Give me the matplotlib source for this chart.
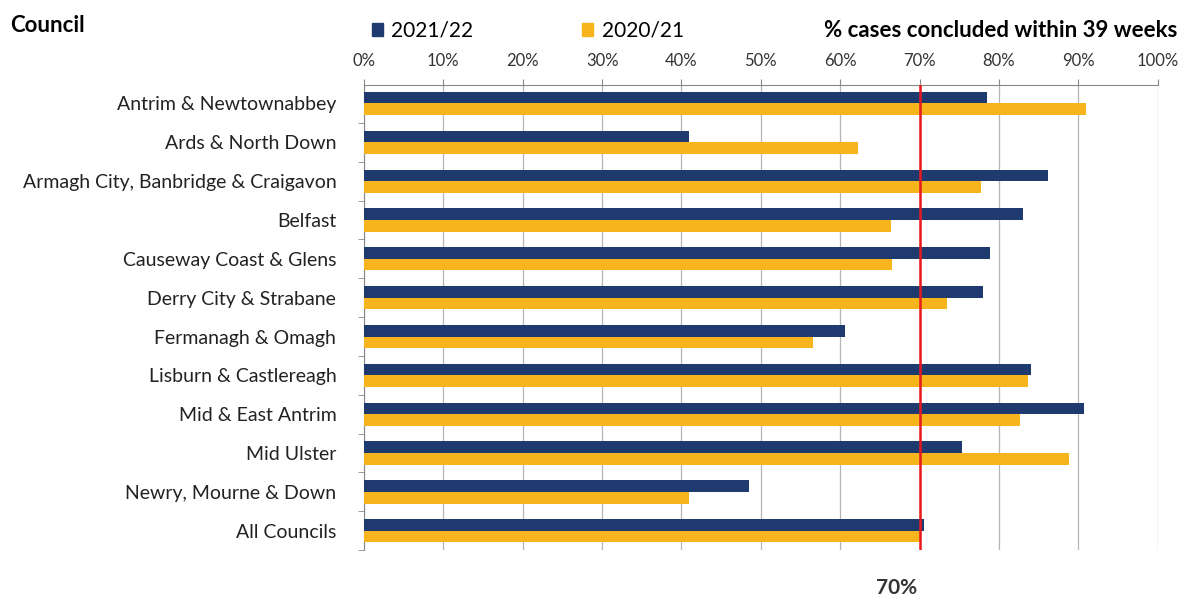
import matplotlib.pyplot as plt
import numpy as np
from matplotlib.patches import Patch

plt.rcParams['font.family'] = ['Lato', 'DejaVu Sans']

councils = ['Antrim & Newtownabbey', 'Ards & North Down', 'Armagh City, Banbridge & Craigavon',
            'Belfast', 'Causeway Coast & Glens', 'Derry City & Strabane', 'Fermanagh & Omagh',
            'Lisburn & Castlereagh', 'Mid & East Antrim', 'Mid Ulster', 'Newry, Mourne & Down',
            'All Councils']
y2122 = [78.5, 40.9, 86.2, 83.1, 78.9, 78.0, 60.6, 84.0, 90.7, 75.4, 48.5, 70.6]
y2021 = [91.0, 62.2, 77.8, 66.4, 66.5, 73.5, 56.6, 83.7, 82.7, 88.9, 40.9, 70.0]
target = 70

navy = '#1f3a6e'
orange = '#f8b41c'

fig = plt.figure(figsize=(11.8, 5.96), dpi=100)
ax = fig.add_axes([0.3085, 0.077, 0.6725, 0.78])

pos = np.arange(len(councils))
h = 0.3
ax.barh(pos - h / 2, y2122, height=h, color=navy, zorder=3)
ax.barh(pos + h / 2, y2021, height=h, color=orange, zorder=3)
ax.axvline(target, color='#e8191c', lw=1.8, zorder=4)

ax.set_xlim(0, 100)
ax.set_ylim(len(councils) - 0.55, -0.47)
ax.set_xticks(np.arange(0, 101, 10))
ax.set_xticklabels([f'{v}%' for v in range(0, 101, 10)], fontsize=12, color='#333333')
ax.xaxis.tick_top()
ax.tick_params(axis='x', length=4, color='#888888', pad=8)
ax.set_yticks(pos)
ax.set_yticklabels(councils, fontsize=14, color='#222222')
ax.set_yticks(np.arange(len(councils)) + 0.5, minor=True)
ax.tick_params(axis='y', which='major', length=0, pad=20)
ax.tick_params(axis='y', which='minor', length=4, color='#888888')
ax.grid(axis='x', color='#b5b5b5', lw=0.9, zorder=0)
for s in ['right', 'bottom']:
    ax.spines[s].set_visible(False)
ax.spines['top'].set_color('#888888')
ax.spines['left'].set_color('#888888')

fig.text(0.009, 0.957, 'Council', fontsize=16, fontweight='bold', ha='left', va='center')
fig.text(0.998, 0.948, '% cases concluded within 39 weeks', fontsize=16, fontweight='bold',
         ha='right', va='center')
fig.text(0.7595, 0.013, f'{target}%', fontsize=15, fontweight='bold', ha='center', va='center',
         color='#333333')

handles = [Patch(color=navy, label='2021/22'), Patch(color=orange, label='2020/21')]
fig.legend(handles=handles, loc='center left', bbox_to_anchor=(0.299, 0.948), ncol=2,
           frameon=False, fontsize=15, handlelength=0.55, handleheight=0.55,
           handletextpad=0.4, columnspacing=5.2)

fig.savefig('out.png', dpi=100)
